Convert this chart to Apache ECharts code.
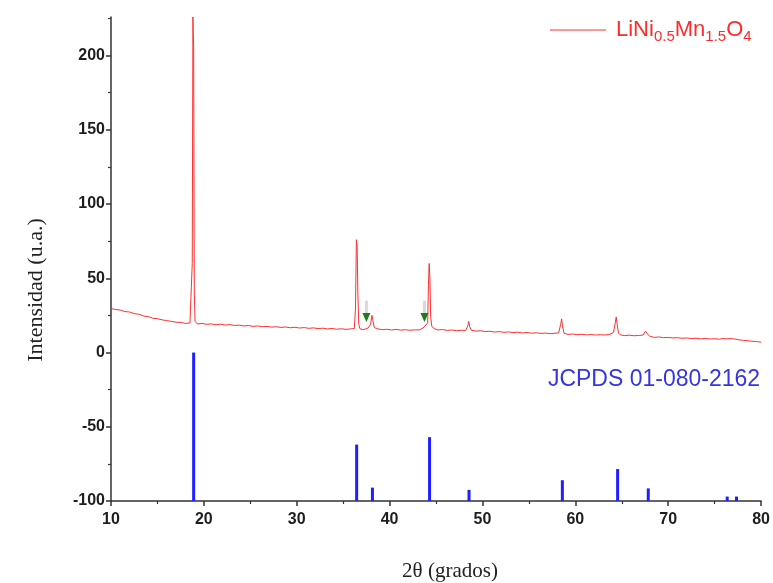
<!DOCTYPE html>
<html>
<head>
<meta charset="utf-8">
<script src="https://cdn.jsdelivr.net/npm/echarts@6/dist/echarts.min.js"></script>
<style>html,body{margin:0;padding:0;background:#fff;}#c{width:773px;height:583px;}</style>
</head>
<body>
<div id="c"></div>
<script>
// ---- data ----
const xTicks = [10, 20, 30, 40, 50, 60, 70, 80];
const yTicks = [-100, -50, 0, 50, 100, 150, 200];

// measured XRD pattern of LiNi0.5Mn1.5O4: [2theta, intensity]
const sampleScan = [
  [10.0,29.6],[10.5,29.0],[11.0,28.6],[11.5,27.6],[12.0,27.3],[12.5,26.2],[13.0,25.8],[13.5,24.6],
  [14.0,24.2],[14.5,23.1],[15.0,22.8],[15.5,22.0],[16.0,21.5],[16.5,21.0],[17.0,20.4],[17.5,20.3],
  [18.0,19.6],[18.5,19.9],[18.65,21],[18.75,60],[18.82,226],[18.9,206],[18.97,40],[19.05,21],
  [19.3,19.2],[19.8,19.6],[20.3,19.0],[20.8,19.3],[21.3,18.7],[21.8,19.1],[22.3,18.5],[22.8,18.8],
  [23.3,18.2],[23.8,18.5],[24.3,17.9],[24.8,18.2],[25.3,17.6],[25.8,17.9],[26.3,17.4],[26.8,17.6],
  [27.3,17.1],[27.8,17.4],[28.3,16.9],[28.8,17.2],[29.3,16.7],[29.8,17.0],[30.3,16.5],[30.8,16.8],
  [31.3,16.3],[31.8,16.6],[32.3,16.1],[32.8,16.4],[33.3,15.9],[33.8,16.2],[34.3,15.7],[34.8,16.0],
  [35.3,15.6],[35.8,15.9],[36.2,16.2],[36.33,30],[36.42,76],[36.5,72],[36.58,40],[36.68,19],
  [36.8,16],[37.1,15.4],[37.4,15.8],[37.7,16.6],[37.95,19],[38.1,25],[38.22,21],[38.35,16.8],
  [38.7,16.0],[39.2,15.4],[39.7,15.7],[40.2,15.2],[40.7,15.6],[41.2,15.1],[41.7,15.4],[42.2,15.0],
  [42.7,15.3],[43.2,15.2],[43.6,16.5],[43.9,18.5],[44.1,20],[44.18,45],[44.26,60],[44.34,50],
  [44.42,24],[44.55,17.5],[44.8,16.2],[45.2,15.2],[45.7,15.5],[46.2,14.9],[46.7,15.2],[47.2,14.7],
  [47.7,15.0],[48.2,14.9],[48.42,18],[48.52,21],[48.62,17.5],[48.8,15.0],[49.3,14.4],[49.8,14.7],
  [50.3,14.1],[50.8,14.3],[51.3,13.8],[51.8,14.1],[52.3,13.6],[52.8,13.9],[53.3,13.4],[53.8,13.7],
  [54.3,13.2],[54.8,13.5],[55.3,13.0],[55.8,13.3],[56.3,12.9],[56.8,13.1],[57.3,12.7],[57.8,13.0],
  [58.2,13.2],[58.42,19],[58.52,22.7],[58.62,18],[58.78,13],[59.2,12.2],[59.7,12.5],[60.2,12.0],
  [60.7,12.3],[61.2,11.9],[61.7,12.1],[62.2,11.8],[62.7,12.0],[63.2,11.8],[63.7,12.2],[64.1,13.5],
  [64.3,20],[64.4,24],[64.5,19],[64.65,13],[64.9,11.8],[65.3,11.4],[65.8,11.7],[66.3,11.3],
  [66.8,11.5],[67.3,11.8],[67.55,14.4],[67.75,12.6],[68.0,11.0],[68.5,10.2],[69.0,10.5],[69.5,10.0],
  [70.0,10.2],[70.5,9.8],[71.0,10.0],[71.5,9.6],[72.0,9.8],[72.5,9.4],[73.0,9.6],[73.5,9.2],
  [74.0,9.5],[74.5,9.1],[75.0,9.3],[75.5,9.0],[75.9,9.4],[76.1,10.3],[76.3,9.2],[76.6,9.4],
  [76.9,9.3],[77.1,10.0],[77.3,9.0],[77.6,8.6],[78.0,8.3],[78.5,8.0],[79.0,7.6],[79.5,7.4],[80.0,7.0]
];

// JCPDS 01-080-2162 reference lines (drawn from the base of the axis up to the top value)
const jcpdsTheta = [18.9, 36.45, 38.15, 44.3, 48.55, 58.6, 64.55, 67.85, 76.35, 77.35];
const jcpdsTop   = [0, -62, -91, -57, -92.5, -86, -78.5, -91.5, -97, -97];
const jcpdsBase  = -100;

// impurity marker arrows: [2theta, tip value, tail value]
const arrowTheta = [37.5, 43.75];
const arrowTip = [20.5, 20.5];
const arrowTail = [35, 35];

const chart = echarts.init(document.getElementById('c'), null, {renderer: 'canvas'});

const labelFont = {color: '#1e1e1e', fontFamily: 'Liberation Sans', fontWeight: 'bold', fontSize: 16};

chart.setOption({
  animation: false,
  backgroundColor: '#ffffff',
  grid: {left: 111, right: 11, top: 17, bottom: 82, containLabel: false},
  legend: {
    show: true,
    left: 545, top: 14,
    itemWidth: 56, itemHeight: 1,
    icon: 'rect',
    data: [{name: 'sample', icon: 'rect'}],
    formatter: () => '{m|LiNi}{s|0.5}{m|Mn}{s|1.5}{m|O}{s|4}',
    textStyle: {
      padding: [0, 0, 0, 5],
      rich: {
        m: {fontSize: 22, color: '#ff2b2b', fontFamily: 'Liberation Sans'},
        s: {fontSize: 15, color: '#ff2b2b', fontFamily: 'Liberation Sans', padding: [13, 0, 0, 0]}
      }
    }
  },
  xAxis: {
    type: 'value', min: xTicks[0], max: xTicks[xTicks.length - 1], interval: 10,
    axisLine: {show: true, onZero: false, lineStyle: {color: '#333', width: 1.5}},
    axisTick: {show: true, inside: false, length: 5, lineStyle: {color: '#333', width: 1.5}},
    minorTick: {show: true, splitNumber: 2, length: 3, lineStyle: {color: '#333', width: 1.2}},
    axisLabel: Object.assign({margin: 11}, labelFont),
    splitLine: {show: false}
  },
  yAxis: {
    type: 'value', min: yTicks[0], max: 226, interval: 50,
    axisLine: {show: true, onZero: false, lineStyle: {color: '#333', width: 1.5}},
    axisTick: {show: true, inside: false, length: 5, customValues: yTicks, lineStyle: {color: '#333', width: 1.5}},
    minorTick: {show: true, splitNumber: 2, length: 3, lineStyle: {color: '#333', width: 1.2}},
    axisLabel: Object.assign({margin: 6, customValues: yTicks}, labelFont),
    splitLine: {show: false}
  },
  graphic: [
    {type: 'text', x: 36, y: 290, rotation: Math.PI / 2,
      style: {text: 'Intensidad (u.a.)', fill: '#222', font: '22px "Liberation Serif"', textAlign: 'center', textVerticalAlign: 'middle'}},
    {type: 'text', x: 450, y: 571,
      style: {text: '2θ (grados)', fill: '#222', font: '21px "Liberation Serif"', textAlign: 'center', textVerticalAlign: 'middle'}},
    {type: 'text', x: 654, y: 380,
      style: {text: 'JCPDS 01-080-2162', fill: '#3535e6', font: '23px "Liberation Sans"', textAlign: 'center', textVerticalAlign: 'middle'}}
  ],
  series: [
    {
      name: 'sample', type: 'line', data: sampleScan, showSymbol: false, symbol: 'none',
      lineStyle: {color: '#ff3030', width: 1}, itemStyle: {color: '#ff3030'}, clip: true, z: 3
    },
    {
      name: 'jcpds', type: 'custom',
      data: jcpdsTheta.map((t, i) => [t, jcpdsTop[i], jcpdsBase]),
      renderItem: (params, api) => {
        const p1 = api.coord([api.value(0), api.value(2)]);
        const p2 = api.coord([api.value(0), api.value(1)]);
        return {type: 'line', shape: {x1: p1[0], y1: p1[1], x2: p2[0], y2: p2[1]},
          style: {stroke: '#2020ff', lineWidth: 3}};
      }, z: 2
    },
    {
      name: 'arrows', type: 'custom',
      data: arrowTheta.map((t, i) => [t, arrowTip[i], arrowTail[i]]),
      renderItem: (params, api) => {
        const tip = api.coord([api.value(0), api.value(1)]);
        const tail = api.coord([api.value(0), api.value(2)]);
        const headLen = 9, headHalf = 4;
        return {type: 'group', children: [
          {type: 'rect', shape: {x: tip[0] - 1.5, y: tail[1], width: 3, height: tip[1] - tail[1] - headLen},
            style: {fill: '#d9d9d9'}},
          {type: 'polygon', shape: {points: [[tip[0] - headHalf, tip[1] - headLen], [tip[0] + headHalf, tip[1] - headLen], [tip[0], tip[1]]]},
            style: {fill: '#1d7a1d'}}
        ]};
      }, z: 4
    }
  ]
});
</script>
</body>
</html>
